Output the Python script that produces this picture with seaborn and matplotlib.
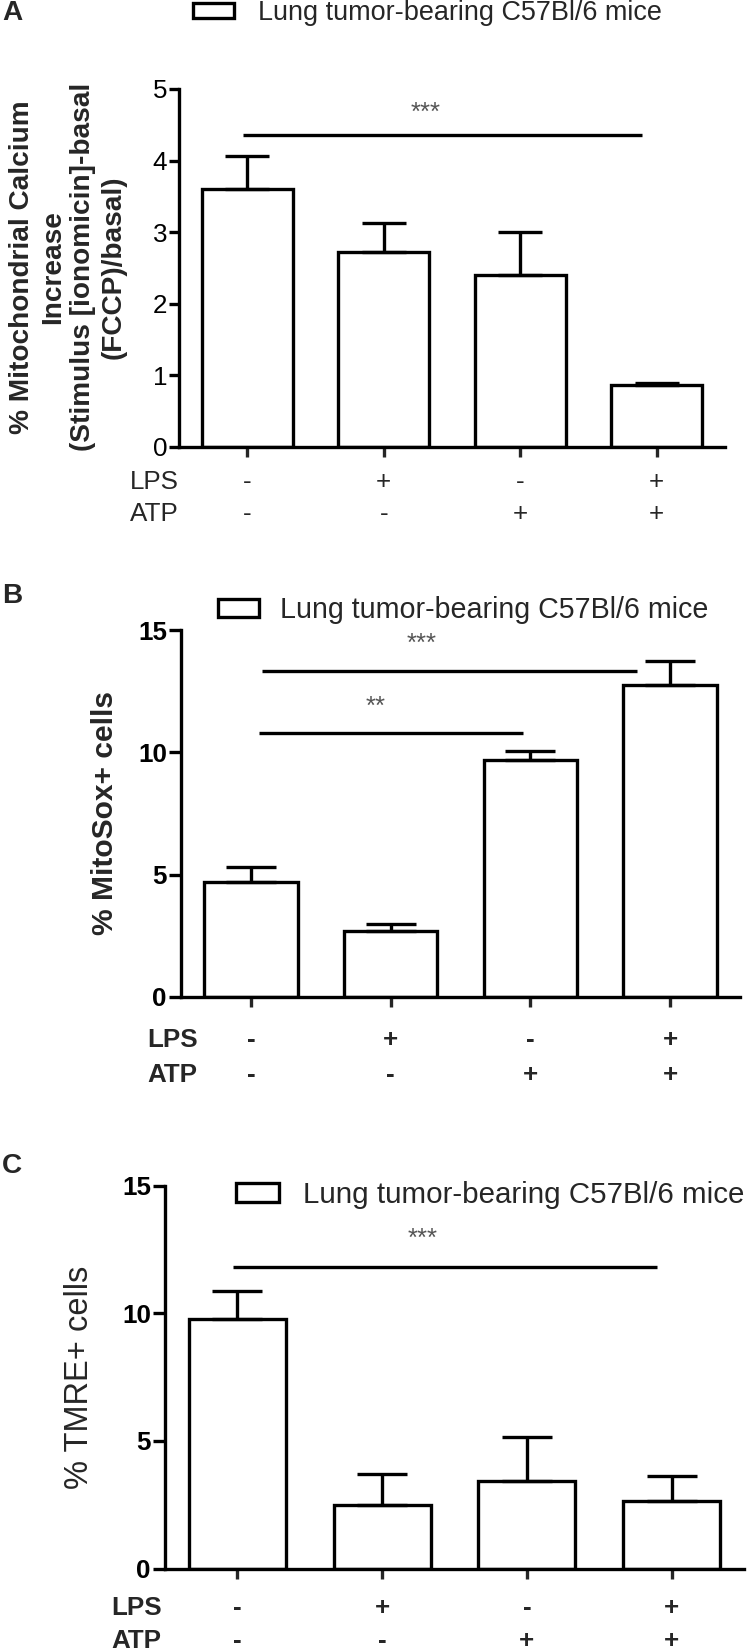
import numpy as np
import pandas as pd
import matplotlib
matplotlib.use("Agg")
import matplotlib.pyplot as plt
import seaborn as sns

# ---------------- data ----------------
conditions = ["ctrl", "LPS", "ATP", "LPS+ATP"]
lps_row = ["-", "+", "-", "+"]
atp_row = ["-", "-", "+", "+"]
legend_label = "Lung tumor-bearing C57Bl/6 mice"

calcium_mean = [3.60, 2.73, 2.40, 0.86]
calcium_sem = [0.46, 0.40, 0.60, 0.03]

mitosox_mean = [4.72, 2.69, 9.69, 12.77]
mitosox_sem = [0.60, 0.31, 0.35, 0.97]

tmre_mean = [9.78, 2.49, 3.42, 2.64]
tmre_sem = [1.08, 1.21, 1.74, 1.00]

ylabel_a = "% Mitochondrial Calcium\nIncrease\n(Stimulus [ionomicin]-basal\n(FCCP)/basal)"
ylabel_b = "% MitoSox+ cells"
ylabel_c = "% TMRE+ cells"

# ---------------- style ----------------
sns.set_theme(style="ticks")
plt.rcParams["font.family"] = ["Liberation Sans", "DejaVu Sans"]

W, H = 748, 1652
DPI = 100
fig = plt.figure(figsize=(W / DPI, H / DPI), dpi=DPI)
PX = 0.72  # points per pixel at 100 dpi
LW = 2.4


def rect(left, right, top, bottom):
    return [left / W, 1 - bottom / H, (right - left) / W, (bottom - top) / H]


def panel(r, means, sems, ymax, yticks, tick_bold, tick_px, cap_pt,
          ylabel, ylab_weight, ylab_px, ylab_xy, linesp,
          leg_px, leg_box_left, leg_y, leg_hl, leg_hh, leg_pad,
          row_label_x, lps_y, atp_y, row_px, row_bold,
          letter, letter_y, ylen):
    ax = fig.add_axes(rect(*r))
    df = pd.DataFrame({"cond": conditions, "val": means})
    sns.barplot(data=df, x="cond", y="val", ax=ax, color="white", saturation=1,
                edgecolor="black", linewidth=LW, width=0.67, errorbar=None)
    ax.errorbar(np.arange(4), means, yerr=[np.zeros(4), sems], fmt="none",
                ecolor="black", elinewidth=LW, capsize=cap_pt, capthick=LW, zorder=5)
    ax.set_xlim(-0.5, 3.5)
    ax.set_ylim(0, ymax)
    ax.set_yticks(yticks)
    ax.set_xticks(range(4))
    ax.set_xticklabels([])
    ax.set_xlabel("")
    for s in ["top", "right"]:
        ax.spines[s].set_visible(False)
    for s in ["left", "bottom"]:
        ax.spines[s].set_linewidth(LW)
        ax.spines[s].set_color("black")
    ax.tick_params(axis="y", direction="out", length=ylen, width=LW, pad=1.5,
                   labelsize=tick_px * PX, colors="black")
    ax.tick_params(axis="x", direction="out", length=7, width=LW)
    for t in ax.get_yticklabels():
        t.set_fontweight("bold" if tick_bold else "normal")
    ax.set_ylabel(ylabel, fontsize=ylab_px * PX, fontweight=ylab_weight,
                  va="center", ha="center", linespacing=linesp)
    ax.yaxis.set_label_coords(ylab_xy[0] / W, 1 - ylab_xy[1] / H, transform=fig.transFigure)

    ax.legend(handles=[ax.patches[0]], labels=[legend_label],
              loc="center left", bbox_to_anchor=(leg_box_left / W, 1 - leg_y / H),
              bbox_transform=fig.transFigure, frameon=False,
              borderpad=0, borderaxespad=0, handlelength=leg_hl,
              handleheight=leg_hh, handletextpad=leg_pad,
              prop={"size": leg_px * PX})

    rw = "bold" if row_bold else "normal"
    fig.text(row_label_x / W, 1 - lps_y / H, "LPS", ha="left", va="center",
             fontsize=row_px * PX, fontweight=rw)
    fig.text(row_label_x / W, 1 - atp_y / H, "ATP", ha="left", va="center",
             fontsize=row_px * PX, fontweight=rw)
    for i in range(4):
        ax.annotate(lps_row[i], xy=(i, H - lps_y), xycoords=("data", "figure pixels"),
                    ha="center", va="center", fontsize=row_px * PX, fontweight=rw,
                    annotation_clip=False)
        ax.annotate(atp_row[i], xy=(i, H - atp_y), xycoords=("data", "figure pixels"),
                    ha="center", va="center", fontsize=row_px * PX, fontweight=rw,
                    annotation_clip=False)
    fig.text(2 / W, 1 - letter_y / H, letter, ha="left", va="center",
             fontsize=28 * PX, fontweight="bold")
    return ax


def sig(ax, x0, x1, y, ys, xs, stars):
    ax.plot([x0, x1], [y, y], color="black", lw=LW, solid_capstyle="butt", clip_on=False)
    ax.text(xs, ys, stars, ha="center", va="center", color="#555555", fontsize=26 * PX)


# Panel A
axA = panel((179, 725, 89, 447), calcium_mean, calcium_sem, 5, [0, 1, 2, 3, 4, 5],
            False, 26, 16, ylabel_a, "bold", 28, (68, 267), 1.22,
            27, 193, 13, 1.52, 0.52, 0.89,
            130, 482, 514, 26, False, "A", 13, 7)
sig(axA, -0.03, 2.89, 4.36, 4.66, 1.31, "***")

# Panel B
axB = panel((181, 740, 630, 997), mitosox_mean, mitosox_sem, 15, [0, 5, 10, 15],
            True, 26, 18, ylabel_b, "bold", 30, (105, 813), 1.2,
            28.6, 218, 610, 1.43, 0.6, 0.73,
            147, 1040, 1075, 26, True, "B", 596, 8.6)
sig(axB, 0.08, 2.76, 13.32, 14.45, 1.22, "***")
sig(axB, 0.06, 1.95, 10.77, 11.85, 0.89, "**")

# Panel C
axC = panel((165, 744, 1185.5, 1568.6), tmre_mean, tmre_sem, 15, [0, 5, 10, 15],
            True, 26, 18, ylabel_c, "normal", 32.6, (79, 1377), 1.2,
            29.5, 236, 1195, 1.46, 0.61, 0.81,
            111, 1608, 1641, 26, True, "C", 1166, 8.6)
sig(axC, -0.03, 2.9, 11.82, 12.9, 1.28, "***")

fig.savefig("out.png", dpi=DPI)
